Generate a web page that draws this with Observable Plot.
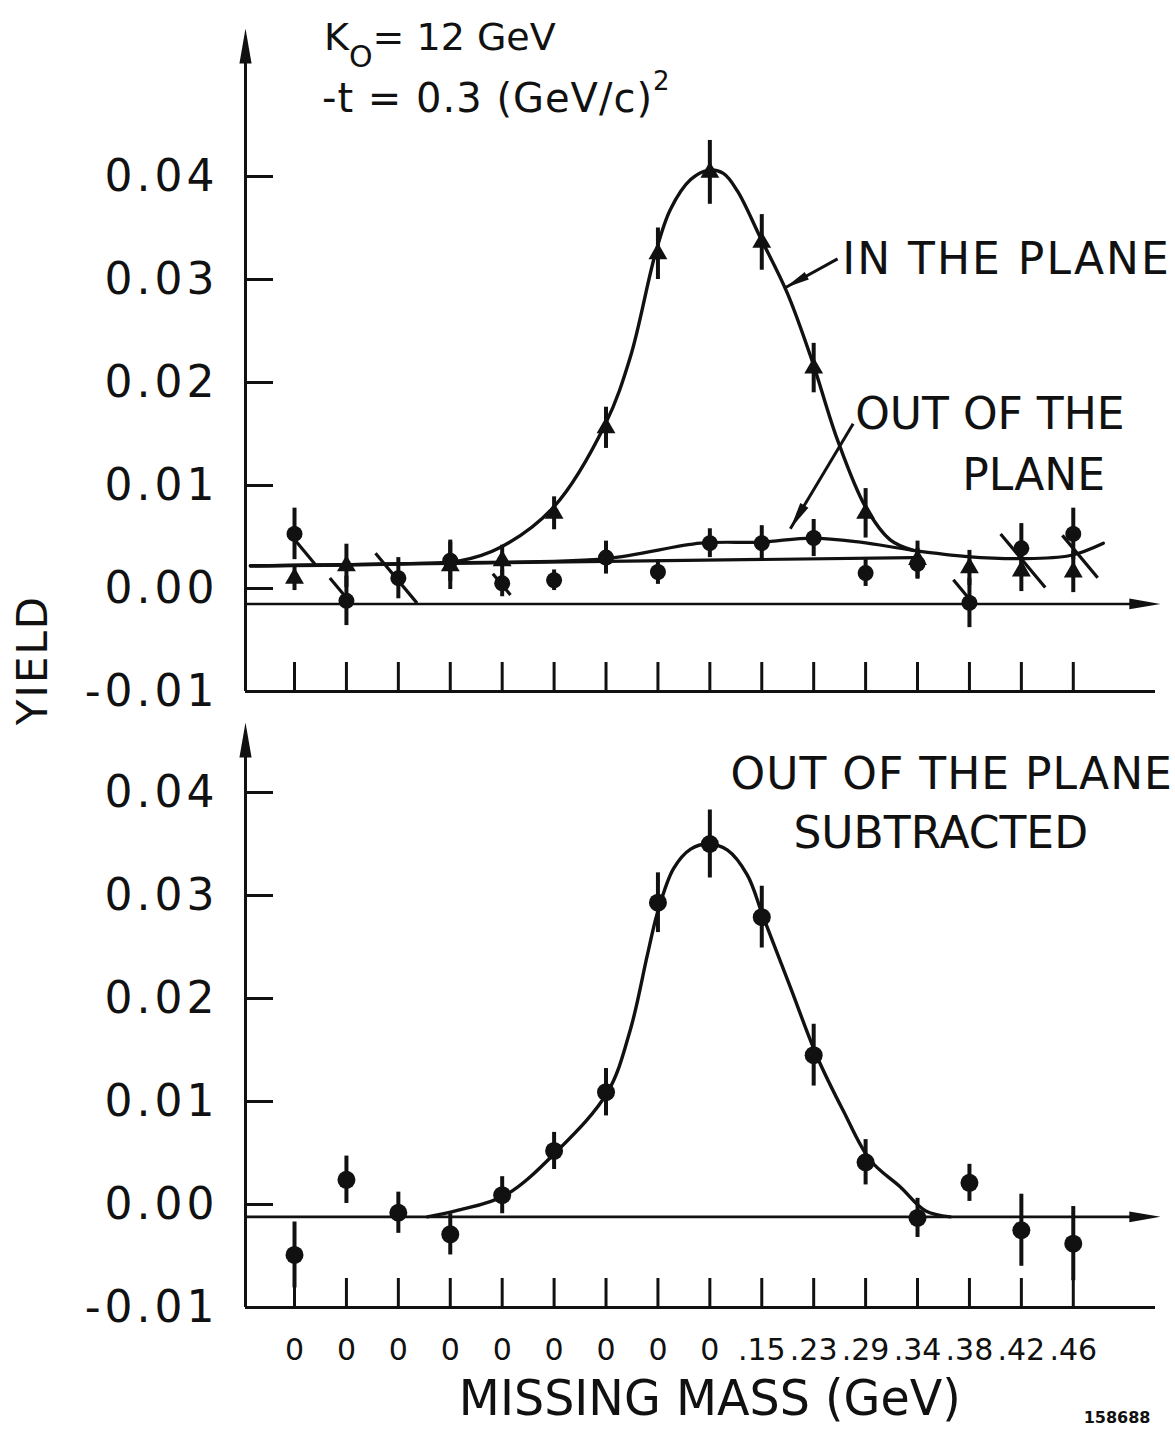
<!DOCTYPE html>
<html>
<head>
<meta charset="utf-8">
<script src="https://cdn.jsdelivr.net/npm/d3@7"></script>
<script src="https://cdn.jsdelivr.net/npm/@observablehq/plot@0.6"></script>
<style>
  html, body { margin: 0; padding: 0; background: #fff; }
  #figure { position: relative; width: 1175px; height: 1431px; overflow: hidden;
            font-family: "DejaVu Sans", sans-serif; color: #111; background: #fff; }
  #figure svg { position: absolute; left: 0; }
  .note { position: absolute; z-index: 2; white-space: nowrap; line-height: 1; }
  .note .sub { position: relative; top: 17px; font-size: 30px; }
  .note .sup { position: relative; top: -22px; font-size: 26px; }
  .ytitle { position: absolute; z-index: 2; left: 33px; top: 660px; font-size: 42px; line-height: 1;
            letter-spacing: 2px; transform: translate(-50%, -50%) rotate(-90deg); white-space: nowrap; }
</style>
</head>
<body>
<div id="figure">
  <div class="note" style="left:324px; top:18px; font-size:38px;">K<span class="sub">O</span>= 12 GeV</div>
  <div class="note" style="left:322px; top:78px; font-size:40px; letter-spacing:1px;">-t = 0.3 (GeV/c)<span class="sup">2</span></div>
  <div class="ytitle">YIELD</div>
</div>
<script>
// Missing-mass bins along the horizontal axis
const massLabels = ["0", "0", "0", "0", "0", "0", "0", "0", "0", ".15", ".23", ".29", ".34", ".38", ".42", ".46"];
const binIndex = massLabels.map((_, i) => i);
const yTicks = [-0.01, 0.00, 0.01, 0.02, 0.03, 0.04];

// Yield in the plane (triangles)
const inPlaneBin = [0, 1, 3, 4, 5, 6, 7, 8, 9, 10, 11, 12, 13, 14, 15];
const inPlaneYield = [0.0010, 0.0022, 0.0022, 0.0027, 0.0073, 0.0156, 0.0325, 0.0404, 0.0336, 0.0214, 0.0073, 0.0028, 0.0020, 0.0017, 0.0016];
const inPlaneError = [0.0012, 0.0021, 0.0023, 0.0015, 0.0016, 0.0020, 0.0025, 0.0031, 0.0027, 0.0024, 0.0024, 0.0018, 0.0017, 0.0020, 0.0020];

// Yield out of the plane (circles)
const outPlaneYield = [0.0053, -0.0012, 0.0010, 0.0027, 0.0005, 0.0008, 0.0030, 0.0016, 0.0044, 0.0044, 0.0049, 0.0015, 0.0024, -0.0014, 0.0039, 0.0053];
const outPlaneError = [0.0025, 0.0024, 0.0020, 0.0020, 0.0013, 0.0010, 0.0016, 0.0012, 0.0014, 0.0017, 0.0018, 0.0013, 0.0015, 0.0024, 0.0024, 0.0025];

// Out-of-plane yield subtracted
const subtractedYield = [-0.0049, 0.0024, -0.0008, -0.0029, 0.0009, 0.0052, 0.0109, 0.0293, 0.0350, 0.0279, 0.0145, 0.0041, -0.0013, 0.0021, -0.0025, -0.0038];
const subtractedError = [0.0032, 0.0023, 0.0020, 0.0020, 0.0018, 0.0018, 0.0023, 0.0029, 0.0033, 0.0030, 0.0030, 0.0022, 0.0019, 0.0018, 0.0035, 0.0036];

// Smooth curves drawn through the points
const inPlaneFitBin = [-0.85, 2.04, 3.2, 3.97, 4.99, 5.99, 6.47, 6.95, 7.24, 7.63, 7.97, 8.26, 8.53, 8.97, 9.49, 9.97, 10.46, 11.0, 11.48, 11.92];
const inPlaneFitYield = [0.0022, 0.0024, 0.0027, 0.0040, 0.0079, 0.0160, 0.0225, 0.0325, 0.0368, 0.0397, 0.0406, 0.0403, 0.0386, 0.0341, 0.0287, 0.0221, 0.0144, 0.0079, 0.0047, 0.0037];
const outPlaneFitBin = [-0.85, 3.1, 6.0, 7.82, 8.97, 9.97, 10.9, 11.92, 12.96, 13.98, 14.94, 15.58];
const outPlaneFitYield = [0.0022, 0.0025, 0.0029, 0.0044, 0.0045, 0.0049, 0.0045, 0.0037, 0.0031, 0.0029, 0.0032, 0.0044];
const backgroundFitBin = [-0.85, 11.92];
const backgroundFitYield = [0.0022, 0.0030];
const subtractedFitBin = [2.56, 3.12, 4.06, 5.06, 6.03, 6.47, 6.80, 6.99, 7.30, 7.63, 7.97, 8.34, 8.72, 9.03, 9.55, 10.07, 10.57, 11.09, 11.67, 12.15, 12.63];
const subtractedFitYield = [-0.0012, -0.0006, 0.0009, 0.0052, 0.0109, 0.0170, 0.0243, 0.0283, 0.0326, 0.0345, 0.0350, 0.0344, 0.0320, 0.0279, 0.0211, 0.0143, 0.0091, 0.0043, 0.0017, -0.0006, -0.0012];

// Zero reference lines of the two panels
const upperZeroLine = -0.0015;
const lowerZeroLine = -0.0012;

// Struck-through points in the upper panel (centre and half-extent in bins)
const strikeBin = [0.19, 0.85, 1.96, 3.99, 12.88, 14.03, 15.13];
const strikeYield = [0.0036, 0.0000, 0.0010, 0.0004, -0.0003, 0.0027, 0.0031];
const strikeHalf = [0.21, 0.17, 0.40, 0.17, 0.19, 0.43, 0.34];

const ink = "#111";
const xDomain = [-0.944, 16.68];
const xRange = [245, 1160];
const figWidth = 1175;

const rows = (bins, ys, errs) => bins.map((bin, i) => ({bin, value: ys[i], error: errs ? errs[i] : 0}));
const curve = (bins, ys) => bins.map((bin, i) => ({bin, value: ys[i]}));

// Solid, elongated arrowhead with its tip at the origin, pointing up
const arrowHead = {
  draw(context, size) {
    const r = Math.sqrt(size / Math.PI);
    const len = 2.6 * r, half = 0.45 * r;
    context.moveTo(0, 0);
    context.lineTo(half, len);
    context.lineTo(-half, len);
    context.closePath();
  }
};

// Spacing tweaks for the lettering, applied after Plot renders
const letterSpacing = new Map([["IN THE PLANE", "2px"], ["OUT OF THE PLANE", "1px"]]);

function makePanel({height, yRange, axisTipPx, zeroLine, content, withMassAxis}) {
  const yDomain = [yTicks[0], yTicks[yTicks.length - 1]];
  const xs = d3.scaleLinear(xDomain, xRange);
  const ys = d3.scaleLinear(yDomain, yRange);
  const x0 = xDomain[0];
  const yFloor = yDomain[0];
  const ctx = {xs, ys};
  const marks = [
    // vertical axis ending in an arrow
    Plot.ruleX([x0], {y1: yFloor, y2: ys.invert(axisTipPx + 14), stroke: ink, strokeWidth: 3}),
    Plot.dot([ys.invert(axisTipPx)], {x: x0, y: d => d, symbol: arrowHead, r: 13.5, fill: ink, stroke: "none"}),
    // bottom frame line
    Plot.ruleY([yFloor], {x1: x0, x2: xs.invert(xRange[1] - 5), stroke: ink, strokeWidth: 3}),
    // inward ticks on both frame lines
    Plot.ruleX(binIndex, {x: d => d, y1: yFloor, y2: ys.invert(ys(yFloor) - 29), stroke: ink, strokeWidth: 3}),
    Plot.ruleY(yTicks.slice(1), {y: d => d, x1: x0, x2: xs.invert(xs(x0) + 28), stroke: ink, strokeWidth: 3}),
    // zero reference line with arrow
    Plot.ruleY([zeroLine], {x1: x0, x2: xs.invert(xRange[1] - 14), stroke: ink, strokeWidth: 2.6}),
    Plot.dot([zeroLine], {x: xDomain[1], y: d => d, symbol: arrowHead, r: 12, rotate: 90, fill: ink, stroke: "none"}),
    Plot.axisY({anchor: "left", ticks: yTicks, tickFormat: d => d.toFixed(2), tickSize: 0, tickPadding: 27,
                fontSize: 44, label: null}),
    ...content(ctx)
  ];
  if (withMassAxis) {
    marks.push(
      Plot.axisX({anchor: "bottom", ticks: binIndex, tickFormat: i => massLabels[i], tickSize: 0,
                  tickPadding: 31, fontSize: 30, label: null}),
      Plot.text(["MISSING MASS (GeV)"], {x: 8, frameAnchor: "bottom", dy: 107, fontSize: 50, fill: ink}),
      Plot.text(["158688"], {frameAnchor: "bottom-right", dx: -10, dy: 115, fontSize: 16, fontWeight: "bold",
                  textAnchor: "end", fill: ink})
    );
  }
  const svg = Plot.plot({
    width: figWidth, height,
    marginLeft: xRange[0], marginRight: figWidth - xRange[1],
    marginTop: yRange[1], marginBottom: height - yRange[0],
    x: {type: "linear", domain: xDomain, range: xRange, axis: null},
    y: {type: "linear", domain: yDomain, range: yRange, axis: null},
    style: {fontFamily: "DejaVu Sans, sans-serif", color: ink, background: "transparent", overflow: "visible"},
    marks
  });
  d3.select(svg).selectAll("text").each(function () {
    const t = this.textContent;
    if (/^-?0\.0\d$/.test(t)) d3.select(this).style("letter-spacing", "4px");
    if (t === "MISSING MASS (GeV)") d3.select(this).attr("textLength", 502).attr("lengthAdjust", "spacingAndGlyphs");
    if (letterSpacing.has(t)) d3.select(this).style("letter-spacing", letterSpacing.get(t));
  });
  return svg;
}

// Error bars and a label with a pointing arrow
function errorBars(data, w = 4) {
  return Plot.ruleX(data, {x: "bin", y1: d => d.value - d.error, y2: d => d.value + d.error, stroke: ink, strokeWidth: w});
}
function pointer(ctx, from, tip, r) {
  const dx = ctx.xs(tip[0]) - ctx.xs(from[0]);
  const dy = ctx.ys(tip[1]) - ctx.ys(from[1]);
  const angle = Math.atan2(dx, -dy) * 180 / Math.PI;
  return [
    Plot.link([0], {x1: from[0], y1: from[1], x2: tip[0], y2: tip[1], stroke: ink, strokeWidth: 3}),
    Plot.dot([0], {x: tip[0], y: tip[1], symbol: arrowHead, r, rotate: angle, fill: ink, stroke: "none"})
  ];
}
function label(text, x, y) {
  return Plot.text([text], {x, y, text: d => d, textAnchor: "start", lineAnchor: "top", fontSize: 44, fill: ink});
}

const inPlane = rows(inPlaneBin, inPlaneYield, inPlaneError);
const outPlane = rows(binIndex, outPlaneYield, outPlaneError);
const subtracted = rows(binIndex, subtractedYield, subtractedError);

const upperPanel = makePanel({
  height: 700, yRange: [691, 176], axisTipPx: 28, zeroLine: upperZeroLine,
  content: (ctx) => {
    const pxPerBin = (xRange[1] - xRange[0]) / (xDomain[1] - xDomain[0]);
    const pxPerYield = (ctx.ys(-0.01) - ctx.ys(0.04)) / 0.05;
    const slope = 1.2 * pxPerBin / pxPerYield;
    const strikes = strikeBin.map((bin, i) => ({
      x1: bin - strikeHalf[i], y1: strikeYield[i] + strikeHalf[i] * slope,
      x2: bin + strikeHalf[i], y2: strikeYield[i] - strikeHalf[i] * slope
    }));
    return [
      Plot.line(curve(backgroundFitBin, backgroundFitYield), {x: "bin", y: "value", stroke: ink, strokeWidth: 3.2}),
      Plot.line(curve(outPlaneFitBin, outPlaneFitYield), {x: "bin", y: "value", curve: "catmull-rom", stroke: ink, strokeWidth: 3.2}),
      Plot.line(curve(inPlaneFitBin, inPlaneFitYield), {x: "bin", y: "value", curve: "catmull-rom", stroke: ink, strokeWidth: 3.4}),
      Plot.link(strikes, {x1: "x1", y1: "y1", x2: "x2", y2: "y2", stroke: ink, strokeWidth: 3.2}),
      errorBars(outPlane),
      errorBars(inPlane),
      Plot.dot(outPlane, {x: "bin", y: "value", r: 8, fill: ink, stroke: "none"}),
      Plot.dot(inPlane, {x: "bin", y: "value", symbol: "triangle", r: 7, fill: ink, stroke: "none"}),
      ...pointer(ctx, [10.46, 0.0320], [9.45, 0.0292], 9.5),
      ...pointer(ctx, [10.76, 0.0160], [9.55, 0.0058], 10.5),
      label("IN THE PLANE", 10.55, 0.0336),
      label("OUT OF THE", 10.80, 0.01854),
      label("PLANE", 12.86, 0.01262)
    ];
  }
});

const lowerPanel = makePanel({
  height: 731, yRange: [607, 92], axisTipPx: 22, zeroLine: lowerZeroLine, withMassAxis: true,
  content: () => [
    Plot.line(curve(subtractedFitBin, subtractedFitYield), {x: "bin", y: "value", curve: "catmull-rom", stroke: ink, strokeWidth: 3.4}),
    errorBars(subtracted),
    Plot.dot(subtracted, {x: "bin", y: "value", r: 9, fill: ink, stroke: "none"}),
    label("OUT OF THE PLANE", 8.40, 0.0434),
    label("SUBTRACTED", 9.61, 0.0376)
  ]
});

upperPanel.style.top = "0px";
lowerPanel.style.top = "700px";
const fig = document.getElementById("figure");
fig.prepend(lowerPanel);
fig.prepend(upperPanel);
</script>
</body>
</html>
